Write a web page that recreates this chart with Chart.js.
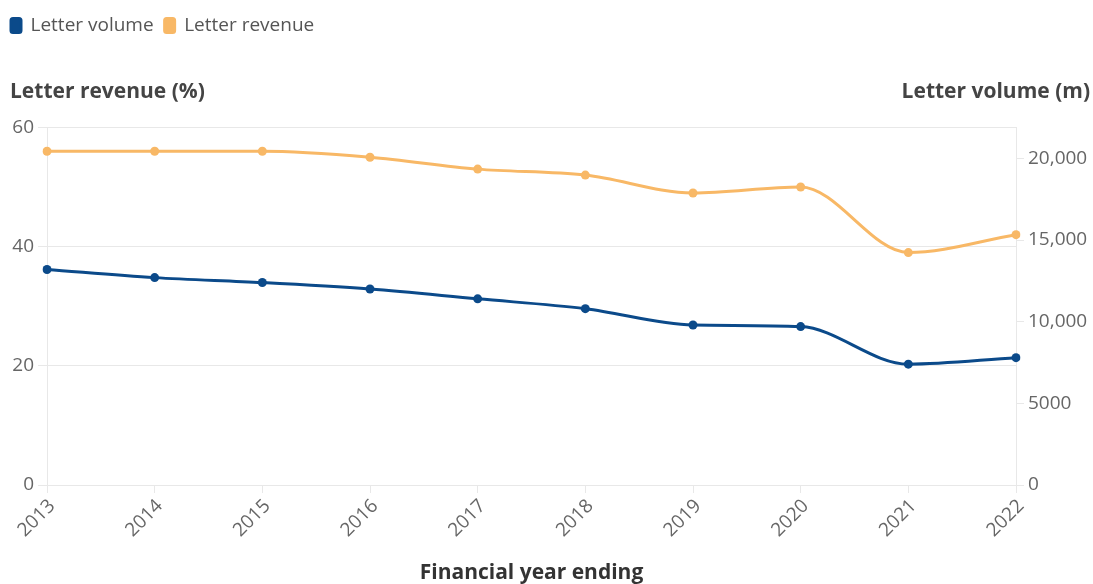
<!DOCTYPE html>
<html>
<head>
<meta charset="utf-8">
<script src="https://cdn.jsdelivr.net/npm/chart.js@4"></script>
<style>
  html, body { margin: 0; padding: 0; background: #fff; }
  #wrap { position: relative; width: 1093px; height: 584px; }
</style>
</head>
<body>
<div id="wrap"><canvas id="lettersChart"></canvas></div>
<script>
var years = ["2013", "2014", "2015", "2016", "2017", "2018", "2019", "2020", "2021", "2022"];
var letterVolume = [13200, 12700, 12400, 12000, 11400, 10800, 9800, 9700, 7400, 7800];
var letterRevenue = [56, 56, 56, 55, 53, 52, 49, 50, 39, 42];
var revenueTicks = [0, 20, 40, 60];
var volumeTicks = [0, 5000, 10000, 15000, 20000];

var BLUE = "#0b4a8a";
var ORANGE = "#f8b866";
var GRID = "#e8e8e8";
var TICK_FONT = { family: "'Open Sans', sans-serif", size: 19 };

// draws the two axis headings above the plot, left and right aligned
var axisHeadings = {
  id: "axisHeadings",
  afterDraw: function (chart) {
    var ctx = chart.ctx;
    var y = chart.chartArea.top - 35;
    ctx.save();
    ctx.font = "bold 21px 'Open Sans', sans-serif";
    ctx.fillStyle = "#444";
    ctx.textBaseline = "middle";
    ctx.textAlign = "left";
    ctx.fillText("Letter revenue (%)", 10, y);
    ctx.textAlign = "right";
    ctx.fillText("Letter volume (m)", chart.width - 3, y);
    ctx.restore();
  },
};

function keepTicks(list) {
  return function (scale) {
    scale.ticks = list.map(function (v) {
      return { value: v };
    });
  };
}

new Chart(document.getElementById("lettersChart").getContext("2d"), {
  type: "line",
  data: {
    labels: years,
    datasets: [
      {
        label: "Letter volume",
        data: letterVolume,
        yAxisID: "yVol",
        borderColor: BLUE,
        backgroundColor: BLUE,
        borderWidth: 3,
        pointRadius: 4.5,
        pointBorderWidth: 0,
        cubicInterpolationMode: "monotone",
      },
      {
        label: "Letter revenue",
        data: letterRevenue,
        yAxisID: "yRev",
        borderColor: ORANGE,
        backgroundColor: ORANGE,
        borderWidth: 3,
        pointRadius: 4.5,
        pointBorderWidth: 0,
        cubicInterpolationMode: "monotone",
      },
    ],
  },
  options: {
    responsive: true,
    maintainAspectRatio: false,
    animation: false,
    events: [],
    layout: { padding: { top: 5, left: 0, right: 0, bottom: 0 } },
    plugins: {
      legend: {
        align: "start",
        labels: {
          color: "#555",
          font: { family: "'Open Sans', sans-serif", size: 19 },
          boxWidth: 10,
          boxHeight: 14,
          padding: 11,
          useBorderRadius: true,
          borderRadius: 2,
        },
      },
      // empty block that keeps room for the axis headings
      title: {
        display: true,
        text: "",
        weight: 500,
        font: { size: 17, lineHeight: 1.2 },
        padding: { top: 0, bottom: 62 },
      },
      tooltip: { enabled: false },
    },
    scales: {
      x: {
        grid: { display: true, drawOnChartArea: false, color: GRID, tickLength: 8 },
        border: { color: GRID },
        ticks: {
          color: "#666",
          font: TICK_FONT,
          maxRotation: 45,
          minRotation: 45,
          padding: 2,
          labelOffset: 5,
        },
        title: {
          display: true,
          text: "Financial year ending",
          color: "#333",
          font: { family: "'Open Sans', sans-serif", size: 21, weight: "bold", lineHeight: 1 },
          padding: { top: 0, bottom: 0 },
        },
        afterFit: function (scale) {
          scale.height = 99;
        },
      },
      yRev: {
        position: "left",
        min: 0,
        max: 60,
        afterBuildTicks: keepTicks(revenueTicks),
        grid: { color: GRID, tickLength: 9 },
        border: { color: GRID },
        ticks: { color: "#666", font: TICK_FONT, padding: 4 },
        afterFit: function (scale) {
          scale.width = 47;
        },
      },
      yVol: {
        position: "right",
        min: 0,
        max: 21900,
        afterBuildTicks: keepTicks(volumeTicks),
        grid: { drawOnChartArea: false, color: GRID, tickLength: 8 },
        border: { color: GRID },
        ticks: {
          color: "#666",
          font: TICK_FONT,
          padding: 4,
          callback: function (v) {
            return v >= 10000 ? v.toLocaleString("en-GB") : String(v);
          },
        },
        afterFit: function (scale) {
          scale.width = 77;
        },
      },
    },
  },
  plugins: [axisHeadings],
});
</script>
</body>
</html>
